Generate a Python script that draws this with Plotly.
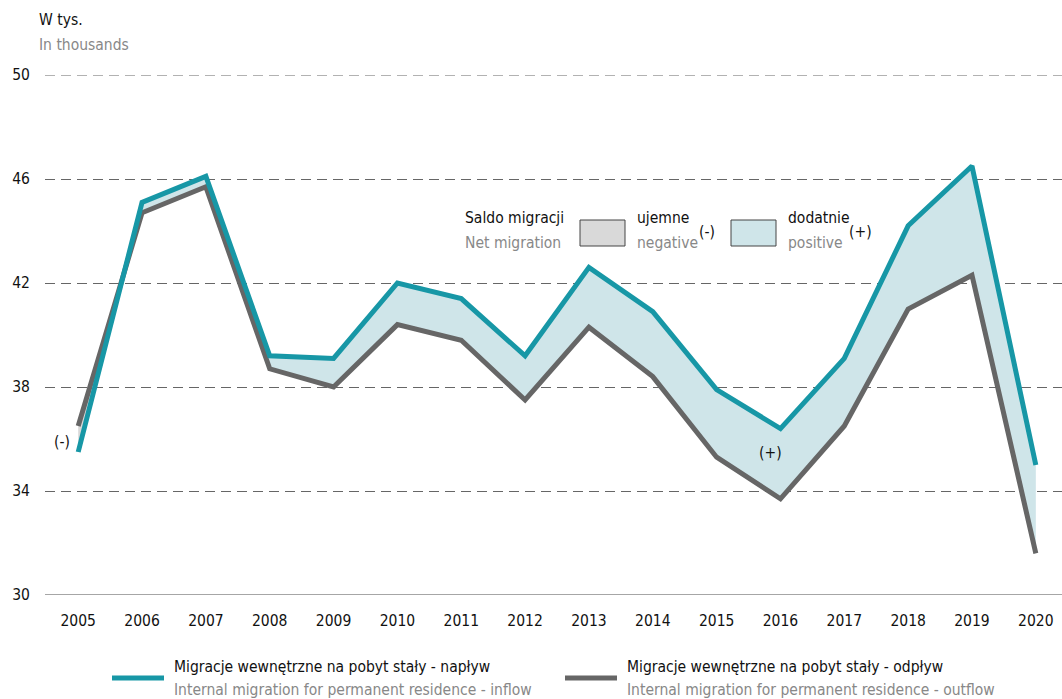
import plotly.graph_objects as go

years = list(range(2005, 2021))
inflow = [35.5, 45.1, 46.1, 39.2, 39.1, 42.0, 41.4, 39.2, 42.6, 40.9, 37.9, 36.4, 39.1, 44.2, 46.5, 35.0]
outflow = [36.5, 44.7, 45.7, 38.7, 38.0, 40.4, 39.8, 37.5, 40.3, 38.4, 35.3, 33.7, 36.5, 41.0, 42.3, 31.6]
y_ticks = [30, 34, 38, 42, 46, 50]

TEAL = "#1797a6"
GREY = "#666666"
POS_FILL = "#cfe5e9"
NEG_FILL = "#d9d9d9"
GRID = "#666666"
FONT = "DejaVu Sans Condensed, Roboto, sans-serif"
FS = 15.5

# plot-area geometry in pixels, used to place the decorative legend items
W, H = 1062, 699
L, R, T, B = 45, 0, 75, 104
PW, PH = W - L - R, H - T - B


def px(x):
    return (x - L) / PW


def py(y):
    return (H - B - y) / PH


# insert crossing points so the two filled regions are exact
xs, ins, outs = [], [], []
for i in range(len(years)):
    xs.append(years[i]); ins.append(inflow[i]); outs.append(outflow[i])
    if i < len(years) - 1:
        d0 = inflow[i] - outflow[i]
        d1 = inflow[i + 1] - outflow[i + 1]
        if d0 * d1 < 0:
            t = d0 / (d0 - d1)
            xs.append(years[i] + t)
            yc = inflow[i] + t * (inflow[i + 1] - inflow[i])
            ins.append(yc); outs.append(yc)

pos_upper = [max(a, b) for a, b in zip(ins, outs)]
neg_lower = [min(a, b) for a, b in zip(ins, outs)]

fig = go.Figure()
# positive net migration: between outflow and inflow where inflow is higher
fig.add_trace(go.Scatter(x=xs, y=outs, mode="lines", line=dict(width=0), hoverinfo="skip", showlegend=False))
fig.add_trace(go.Scatter(x=xs, y=pos_upper, mode="lines", line=dict(width=0), fill="tonexty",
                         fillcolor=POS_FILL, hoverinfo="skip", showlegend=False))
# negative net migration: between inflow and outflow where outflow is higher
fig.add_trace(go.Scatter(x=xs, y=neg_lower, mode="lines", line=dict(width=0), hoverinfo="skip", showlegend=False))
fig.add_trace(go.Scatter(x=xs, y=outs, mode="lines", line=dict(width=0), fill="tonexty",
                         fillcolor=NEG_FILL, hoverinfo="skip", showlegend=False))

fig.add_trace(go.Scatter(x=years, y=outflow, mode="lines", line=dict(color=GREY, width=5),
                         name="outflow", showlegend=False))
fig.add_trace(go.Scatter(x=years, y=inflow, mode="lines", line=dict(color=TEAL, width=5),
                         name="inflow", showlegend=False))

shapes = []
annotations = []


def label(x, y, text, color="#111111"):
    annotations.append(dict(x=px(x), y=py(y), xref="paper", yref="paper", text=text, showarrow=False,
                            xanchor="left", yanchor="middle", font=dict(family=FONT, size=FS, color=color)))


# header
label(37, 20, "W tys.")
label(37, 45, "In thousands", "#888888")

# net migration legend
label(463, 218, "Saldo migracji")
label(463, 243, "Net migration", "#888888")
for x0, fillc, top, bottom, sign, sx in [
    (580, NEG_FILL, "ujemne", "negative", "(-)", 697),
    (731, POS_FILL, "dodatnie", "positive", "(+)", 847),
]:
    shapes.append(dict(type="rect", xref="paper", yref="paper", x0=px(x0), x1=px(x0 + 45),
                       y0=py(246), y1=py(220), fillcolor=fillc, line=dict(color="#444444", width=1)))
    label(x0 + 55, 218, top)
    label(x0 + 55, 243, bottom, "#888888")
    label(sx, 232, sign)

# sign labels in the chart
annotations.append(dict(x=2005, y=(inflow[0] + outflow[0]) / 2 - 0.1, text="(-)", showarrow=False,
                        xshift=-16, font=dict(family=FONT, size=FS, color="#111111")))
annotations.append(dict(x=2016, y=35.45, text="(+)", showarrow=False, xshift=-10,
                        font=dict(family=FONT, size=FS, color="#111111")))

# series legend below the chart
for x0, col, pl, en in [
    (112, TEAL, "Migracje wewnętrzne na pobyt stały - napływ", "Internal migration for permanent residence - inflow"),
    (565, GREY, "Migracje wewnętrzne na pobyt stały - odpływ", "Internal migration for permanent residence - outflow"),
]:
    shapes.append(dict(type="line", xref="paper", yref="paper", x0=px(x0), x1=px(x0 + 52),
                       y0=py(678), y1=py(678), line=dict(color=col, width=5)))
    label(x0 + 60, 667, pl)
    label(x0 + 60, 690, en, "#888888")

# top gridline at 50 and baseline at 30
shapes.append(dict(type="line", xref="paper", yref="y", x0=0, x1=1, y0=50, y1=50,
                   line=dict(color=GRID, width=1, dash="10px,6px")))
shapes.append(dict(type="line", xref="paper", yref="y", x0=0, x1=1, y0=30, y1=30,
                   line=dict(color="#888888", width=1.5)))

fig.update_layout(
    width=W, height=H,
    margin=dict(l=L, r=R, t=T, b=B),
    paper_bgcolor="white", plot_bgcolor="white",
    shapes=shapes, annotations=annotations,
    font=dict(family=FONT, size=FS, color="#111111"),
    xaxis=dict(range=[2004.48, 2020.41], tickmode="array", tickvals=years, ticktext=[str(y) for y in years],
               showgrid=False, zeroline=False, showline=False, ticks="", ticklabelstandoff=14,
               tickfont=dict(family=FONT, size=FS, color="#111111"), fixedrange=True),
    yaxis=dict(range=[30, 50], tickmode="array", tickvals=y_ticks, ticktext=[str(v) for v in y_ticks],
               showgrid=True, gridcolor=GRID, gridwidth=1, griddash="10px,6px", zeroline=False,
               showline=False, ticks="", ticklabelstandoff=14,
               tickfont=dict(family=FONT, size=FS, color="#111111"), fixedrange=True),
)

fig.write_html("out.html")
